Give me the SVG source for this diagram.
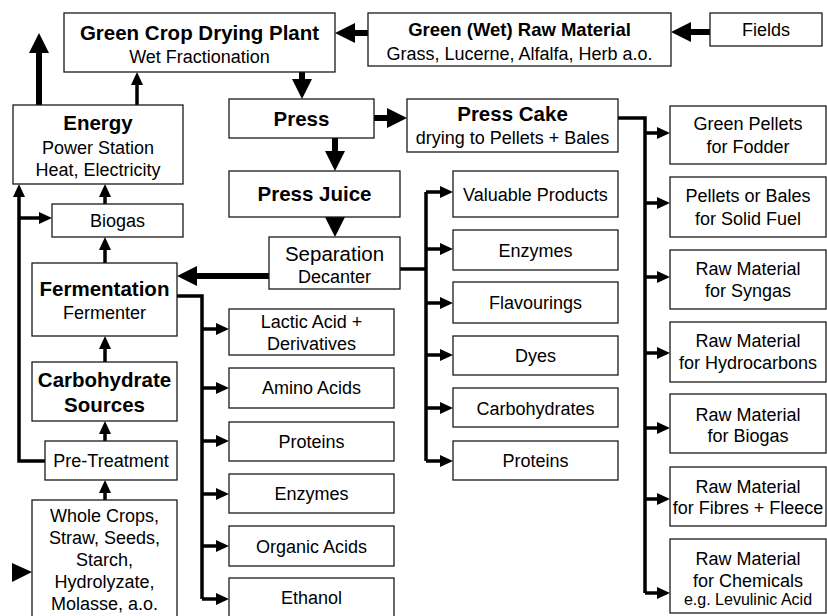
<svg xmlns="http://www.w3.org/2000/svg" width="827" height="616" viewBox="0 0 827 616">
<style>
  .box{fill:#fff;stroke:#1a1a1a;stroke-width:1.3}
  .t{font-family:"Liberation Sans",Arial,sans-serif;font-size:18px;fill:#000;text-anchor:middle}
  .b{font-weight:bold;font-size:20.5px}
  .bm{font-weight:bold;font-size:18.5px}
  .s{font-size:16px}
  .l{font-size:20.5px}
  .thick{fill:none;stroke:#000;stroke-width:6;marker-end:url(#big)}
  .thin{fill:none;stroke:#000;stroke-width:3.5;stroke-linejoin:miter}
  .arr{marker-end:url(#small)}
</style>
<defs>
  <marker id="big" viewBox="0 0 20 20" refX="1" refY="10" markerWidth="20" markerHeight="20" markerUnits="userSpaceOnUse" orient="auto">
    <path d="M0,0 L20,10 L0,20 z" fill="#000"/>
  </marker>
  <marker id="small" viewBox="0 0 13 12" refX="1" refY="6" markerWidth="13" markerHeight="12" markerUnits="userSpaceOnUse" orient="auto">
    <path d="M0,0 L13,6 L0,12 z" fill="#000"/>
  </marker>
</defs>
<rect width="827" height="616" fill="#fff"/>
<g id="connectors">
  <path class="thick" d="M710,32 L690,32"/>
  <path class="thick" d="M368,33 L354,33"/>
  <path class="thick" d="M39,105 L39,52"/>
  <path class="thick" d="M302,72 L302,80"/>
  <path class="thick" d="M374,118 L388,118"/>
  <path class="thick" d="M335,138 L335,152"/>
  <path class="thick" d="M335,210 L335,218"/>
  <path class="thick" d="M269,276 L196,276"/>
  <path class="thin arr" d="M137,105 L137,84"/>
  <path class="thin arr" d="M105,204 L105,196"/>
  <path class="thin arr" d="M105,263 L105,249"/>
  <path class="thin arr" d="M105,362 L105,348"/>
  <path class="thin arr" d="M105,441 L105,433"/>
  <path class="thin arr" d="M105,500 L105,492"/>
  <path class="thin arr" d="M45,461 H19 V196"/>
  <path class="thin arr" d="M19,218 H40"/>
  <path class="thin" d="M177,296 H202 V599"/>
  <path class="thin arr" d="M202,329 H217"/>
  <path class="thin arr" d="M202,388 H217"/>
  <path class="thin arr" d="M202,441 H217"/>
  <path class="thin arr" d="M202,494 H217"/>
  <path class="thin arr" d="M202,546 H217"/>
  <path class="thin arr" d="M202,599 H217"/>
  <path class="thin" d="M400,269 H426"/>
  <path class="thin" d="M426,192 V461"/>
  <path class="thin arr" d="M426,192 H441"/>
  <path class="thin arr" d="M426,249 H441"/>
  <path class="thin arr" d="M426,303 H441"/>
  <path class="thin arr" d="M426,355 H441"/>
  <path class="thin arr" d="M426,408 H441"/>
  <path class="thin arr" d="M426,461 H441"/>
  <path class="thin" d="M618,118 H645 V593"/>
  <path class="thin arr" d="M645,133 H658"/>
  <path class="thin arr" d="M645,203 H658"/>
  <path class="thin arr" d="M645,277 H658"/>
  <path class="thin arr" d="M645,353 H658"/>
  <path class="thin arr" d="M645,428 H658"/>
  <path class="thin arr" d="M645,499 H658"/>
  <path class="thin arr" d="M645,593 H658"/>
  <polygon points="12,563 32,572 12,582" fill="#000"/>
</g>
<g id="gcdp"><rect class="box" x="64" y="13" width="271" height="59"/>
  <text class="t b" x="199.5" y="40">Green Crop Drying Plant</text>
  <text class="t" x="199.5" y="62.5">Wet Fractionation</text></g>
<g id="greenwet"><rect class="box" x="368" y="13" width="303" height="53"/>
  <text class="t bm" x="519.5" y="36">Green (Wet) Raw Material</text>
  <text class="t" x="519.5" y="60">Grass, Lucerne, Alfalfa, Herb a.o.</text></g>
<g id="fields"><rect class="box" x="710" y="13" width="112" height="33"/>
  <text class="t" x="766" y="36">Fields</text></g>
<g id="energy"><rect class="box" x="13" y="105" width="170" height="79"/>
  <text class="t b" x="98" y="130">Energy</text>
  <text class="t" x="98" y="154">Power Station</text>
  <text class="t" x="98" y="176">Heat, Electricity</text></g>
<g id="press"><rect class="box" x="229" y="99" width="145" height="39"/>
  <text class="t b" x="301.5" y="126">Press</text></g>
<g id="presscake"><rect class="box" x="407" y="99" width="211" height="53"/>
  <text class="t b" x="512.5" y="121">Press Cake</text>
  <text class="t" x="512.5" y="144">drying to Pellets + Bales</text></g>
<g id="pressjuice"><rect class="box" x="229" y="171" width="171" height="46"/>
  <text class="t b" x="314.5" y="201">Press Juice</text></g>
<g id="biogas"><rect class="box" x="52" y="204" width="131" height="33"/>
  <text class="t" x="117.5" y="227">Biogas</text></g>
<g id="separation"><rect class="box" x="269" y="237" width="131" height="52"/>
  <text class="t l" x="334.5" y="261">Separation</text>
  <text class="t" x="334.5" y="283">Decanter</text></g>
<g id="fermentation"><rect class="box" x="32" y="263" width="145" height="73"/>
  <text class="t b" x="104.5" y="296">Fermentation</text>
  <text class="t" x="104.5" y="319">Fermenter</text></g>
<g id="carbsources"><rect class="box" x="32" y="362" width="145" height="59"/>
  <text class="t b" x="104.5" y="387">Carbohydrate</text>
  <text class="t b" x="104.5" y="412">Sources</text></g>
<g id="pretreatment"><rect class="box" x="45" y="441" width="132" height="39"/>
  <text class="t" x="111" y="467">Pre-Treatment</text></g>
<g id="wholecrops"><rect class="box" x="32" y="500" width="145" height="125"/>
  <text class="t" x="104.5" y="522">Whole Crops,</text>
  <text class="t" x="104.5" y="544">Straw, Seeds,</text>
  <text class="t" x="104.5" y="566">Starch,</text>
  <text class="t" x="104.5" y="588">Hydrolyzate,</text>
  <text class="t" x="104.5" y="610">Molasse, a.o.</text></g>
<g id="lactic"><rect class="box" x="229" y="309" width="165" height="46"/>
  <text class="t" x="311.5" y="328">Lactic Acid +</text>
  <text class="t" x="311.5" y="350">Derivatives</text></g>
<g id="amino"><rect class="box" x="229" y="368" width="165" height="40"/>
  <text class="t" x="311.5" y="394">Amino Acids</text></g>
<g id="proteins1"><rect class="box" x="229" y="422" width="165" height="39"/>
  <text class="t" x="311.5" y="448">Proteins</text></g>
<g id="enzymes1"><rect class="box" x="229" y="474" width="165" height="39"/>
  <text class="t" x="311.5" y="500">Enzymes</text></g>
<g id="organic"><rect class="box" x="229" y="526" width="165" height="40"/>
  <text class="t" x="311.5" y="553">Organic Acids</text></g>
<g id="ethanol"><rect class="box" x="229" y="578" width="165" height="45"/>
  <text class="t" x="311.5" y="604">Ethanol</text></g>
<g id="valuable"><rect class="box" x="453" y="171" width="165" height="46"/>
  <text class="t" x="535.5" y="201">Valuable Products</text></g>
<g id="enzymes2"><rect class="box" x="453" y="230" width="165" height="40"/>
  <text class="t" x="535.5" y="257">Enzymes</text></g>
<g id="flavourings"><rect class="box" x="453" y="282" width="165" height="41"/>
  <text class="t" x="535.5" y="309">Flavourings</text></g>
<g id="dyes"><rect class="box" x="453" y="336" width="165" height="39"/>
  <text class="t" x="535.5" y="362">Dyes</text></g>
<g id="carbohydrates"><rect class="box" x="453" y="388" width="165" height="39"/>
  <text class="t" x="535.5" y="415">Carbohydrates</text></g>
<g id="proteins2"><rect class="box" x="453" y="441" width="165" height="39"/>
  <text class="t" x="535.5" y="467">Proteins</text></g>
<g id="greenpellets"><rect class="box" x="670" y="106" width="156" height="58"/>
  <text class="t" x="748" y="130">Green Pellets</text>
  <text class="t" x="748" y="153">for Fodder</text></g>
<g id="solidfuel"><rect class="box" x="670" y="177" width="156" height="60"/>
  <text class="t" x="748" y="202">Pellets or Bales</text>
  <text class="t" x="748" y="225">for Solid Fuel</text></g>
<g id="syngas"><rect class="box" x="670" y="250" width="156" height="59"/>
  <text class="t" x="748" y="275">Raw Material</text>
  <text class="t" x="748" y="297">for Syngas</text></g>
<g id="hydrocarbons"><rect class="box" x="670" y="322" width="156" height="60"/>
  <text class="t" x="748" y="347">Raw Material</text>
  <text class="t" x="748" y="369">for Hydrocarbons</text></g>
<g id="rawbiogas"><rect class="box" x="670" y="394" width="156" height="59"/>
  <text class="t" x="748" y="421">Raw Material</text>
  <text class="t" x="748" y="442">for Biogas</text></g>
<g id="fibres"><rect class="box" x="670" y="467" width="156" height="59"/>
  <text class="t" x="748" y="493">Raw Material</text>
  <text class="t" x="748" y="514">for Fibres + Fleece</text></g>
<g id="chemicals"><rect class="box" x="670" y="539" width="156" height="74"/>
  <text class="t" x="748" y="565">Raw Material</text>
  <text class="t" x="748" y="587">for Chemicals</text>
  <text class="t s" x="748" y="605">e.g. Levulinic Acid</text></g>
</svg>
